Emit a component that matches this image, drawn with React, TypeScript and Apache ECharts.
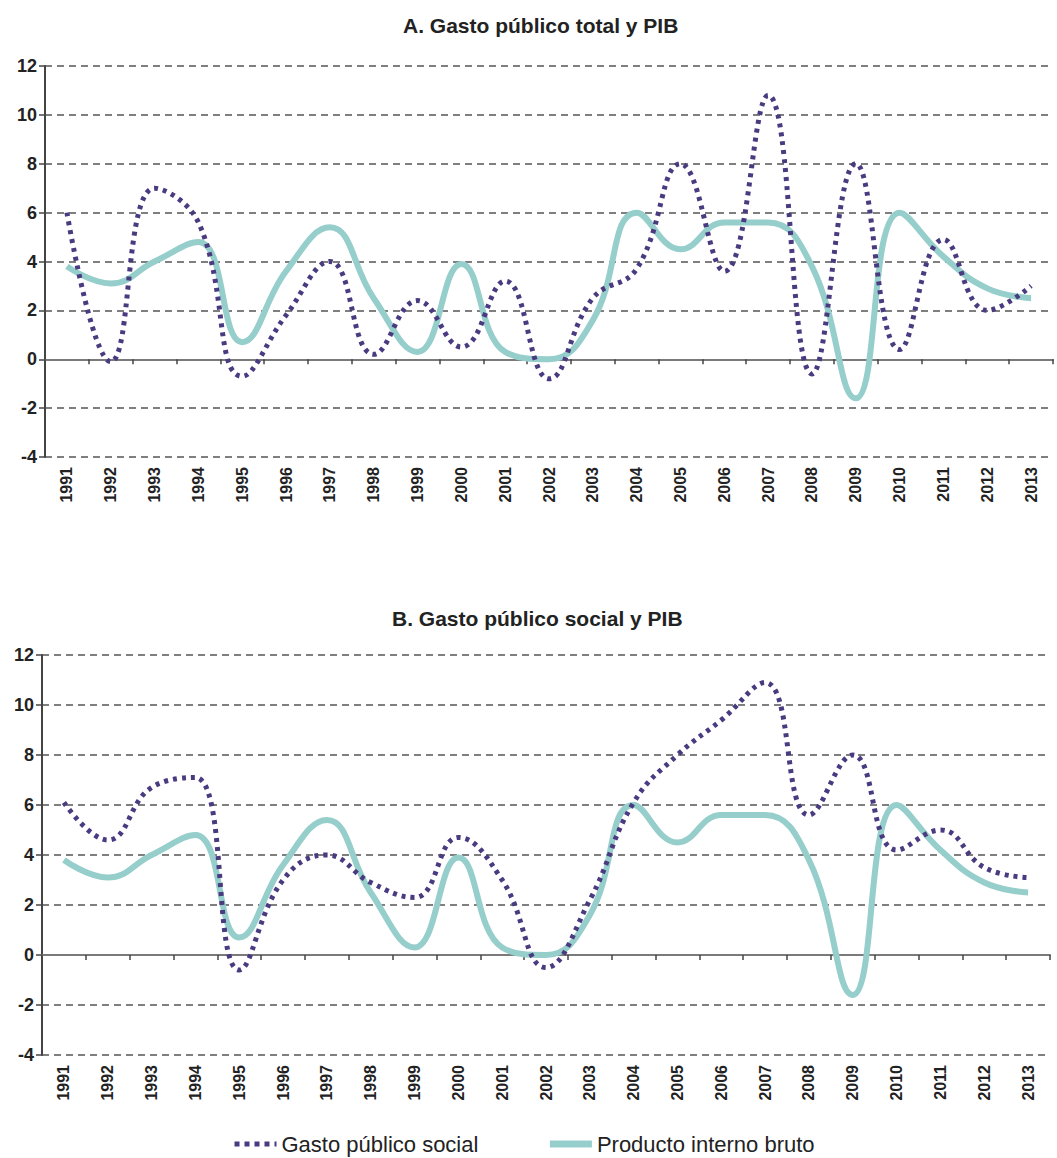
import React, { useEffect, useRef } from "react";
import * as echarts from "echarts";

const years = ["1991","1992","1993","1994","1995","1996","1997","1998","1999","2000","2001","2002","2003","2004","2005","2006","2007","2008","2009","2010","2011","2012","2013"];
const pib = [3.8, 3.1, 4.0, 4.8, 0.7, 3.6, 5.4, 2.5, 0.3, 3.9, 0.3, 0.0, 1.6, 6.0, 4.5, 5.6, 5.6, 3.8, -1.6, 6.0, 4.2, 2.9, 2.5];
const gastoTotal = [6.0, -0.1, 7.0, 5.6, -0.7, 1.8, 4.0, 0.2, 2.4, 0.5, 3.2, -0.8, 2.5, 3.7, 8.0, 3.6, 10.8, -0.6, 8.0, 0.4, 4.9, 2.0, 3.0];
const gastoSocial = [6.1, 4.6, 6.7, 7.1, -0.6, 3.0, 4.0, 2.9, 2.3, 4.7, 3.0, -0.5, 2.2, 6.1, 8.0, 9.4, 10.9, 5.6, 8.0, 4.2, 5.0, 3.5, 3.1];
const titles = ["A. Gasto público total y PIB", "B. Gasto público social y PIB"];
const nameGasto = "Gasto público social";
const namePib = "Producto interno bruto";

const FONT = "Liberation Sans, Arial, sans-serif";
const PURPLE = "#4a3a80";
const TEAL = "#95cecb";

export default function App() {
  const ref = useRef<HTMLDivElement>(null);
  useEffect(() => {
    if (!ref.current) return;
    const chart = echarts.init(ref.current, undefined, { renderer: "svg" });
    const grids = [
      { left: 45, top: 66, width: 1008, height: 391 },
      { left: 42, top: 655, width: 1008, height: 400 },
    ];
    const xAxes: any[] = [];
    const yAxes: any[] = [];
    grids.forEach((g, i) => {
      xAxes.push({
        type: "category",
        gridIndex: i,
        data: years,
        position: "bottom",
        boundaryGap: true,
        axisLine: { show: false, onZero: false },
        axisTick: { show: false },
        splitLine: { show: false },
        axisLabel: { rotate: 90, fontSize: 16, fontWeight: "bold", color: "#222", fontFamily: FONT, margin: 10 },
      });
      xAxes.push({
        type: "category",
        gridIndex: i,
        data: years,
        position: "bottom",
        boundaryGap: true,
        axisLine: { show: true, onZero: true, lineStyle: { color: "#7a7a7a", width: 2 } },
        axisTick: { show: true, length: 5, lineStyle: { color: "#444", width: 1.5 } },
        axisLabel: { show: false },
        splitLine: { show: false },
      });
      yAxes.push({
        type: "value",
        gridIndex: i,
        min: -4,
        max: 12,
        interval: 2,
        axisLine: { show: true, lineStyle: { color: "#444", width: 2 } },
        axisTick: { show: true, length: 6, lineStyle: { color: "#444", width: 1.5 } },
        axisLabel: { fontSize: 18, fontWeight: "bold", color: "#222", fontFamily: FONT, margin: 8 },
        splitLine: { show: true, lineStyle: { color: "#555", width: 1.5, type: [7, 5] } },
      });
    });
    const lineSeries = (name: string, data: number[], idx: number, dotted: boolean) => ({
      name,
      type: "line",
      xAxisIndex: idx * 2,
      yAxisIndex: idx,
      data,
      smooth: 0.45,
      symbol: "none",
      z: dotted ? 4 : 3,
      lineStyle: dotted
        ? { color: PURPLE, width: 5, type: [4, 5], cap: "butt" }
        : { color: TEAL, width: 6 },
      itemStyle: { color: dotted ? PURPLE : TEAL },
    });
    chart.setOption({
      animation: false,
      backgroundColor: "#fff",
      title: [
        { text: titles[0], left: 398, top: 10, textStyle: { fontSize: 21, fontWeight: "bold", color: "#222", fontFamily: FONT } },
        { text: titles[1], left: 387, top: 603, textStyle: { fontSize: 21, fontWeight: "bold", color: "#222", fontFamily: FONT } },
      ],
      legend: {
        data: [
          { name: nameGasto, lineStyle: { color: PURPLE, width: 5, type: [5, 5] } },
          { name: namePib, lineStyle: { color: TEAL, width: 7 } },
        ],
        left: 232,
        top: 1133,
        padding: 0,
        itemWidth: 42,
        itemHeight: 14,
        itemGap: 68,
        itemStyle: { opacity: 0 },
        textStyle: { fontSize: 22, color: "#222", fontFamily: FONT },
      },
      grid: grids,
      xAxis: xAxes,
      yAxis: yAxes,
      series: [
        lineSeries(namePib, pib, 0, false),
        lineSeries(nameGasto, gastoTotal, 0, true),
        lineSeries(namePib, pib, 1, false),
        lineSeries(nameGasto, gastoSocial, 1, true),
      ],
    });
    return () => chart.dispose();
  }, []);
  return <div ref={ref} style={{ position: "absolute", left: 0, top: 0, width: 1057, height: 1158 }} />;
}
